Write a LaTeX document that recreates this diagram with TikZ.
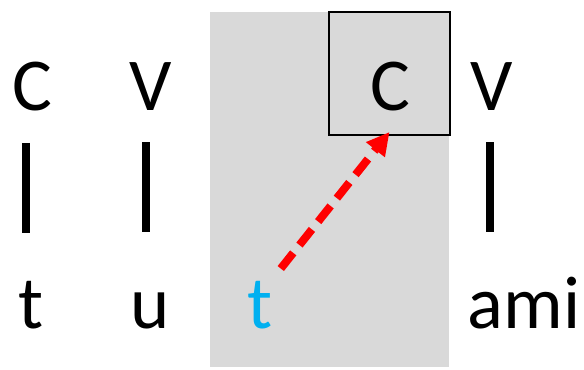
\documentclass[tikz,border=0pt]{standalone}
\usepackage{fontspec}
\setmainfont{Carlito}
\usetikzlibrary{arrows.meta}
\definecolor{panelgray}{HTML}{D9D9D9}
\definecolor{skyblue}{HTML}{00B0F0}
\begin{document}
\begin{tikzpicture}[x=0.75pt,y=-0.75pt,
  seg/.style={font=\fontsize{56}{60}\selectfont, inner sep=0pt, anchor=base},
  assoc/.style={line width=6.5pt},
  move/.style={red, line width=6pt, dash pattern=on 15pt off 7.5pt,
    -{Triangle[length=17pt,width=17pt]}}]
\useasboundingbox (0,0) rectangle (584,369);
\fill[panelgray] (210,12) rectangle (449,367);
\node[draw, line width=1.5pt, minimum width=90.75pt, minimum height=92.25pt] (slot) at (389.5,73.5) {};
% skeleton
\node[seg] (c1) at (32,110) {C};
\node[seg] (v1) at (151,110) {V};
\node[seg] (c2) at (390,110) {C};
\node[seg] (v2) at (492,110) {V};
% melody
\node[seg] (t1) at (31,328) {t};
\node[seg] (u1) at (150,328) {u};
\node[seg, text=skyblue] (t2) at (260,328) {t};
\node[seg] (ami) at (524,328) {ami};
% association lines
\draw[assoc] (c1.south) ++(-6,32) -- ++(0,90);
\draw[assoc] (v1.south) ++(-5,32) -- ++(0,90);
\draw[assoc] (v2.south) ++(-2,32) -- ++(0,90);
\draw[move] ([shift={(8,-12)}]t2.north east) -- ([yshift=3pt]slot.south);
\end{tikzpicture}
\end{document}
